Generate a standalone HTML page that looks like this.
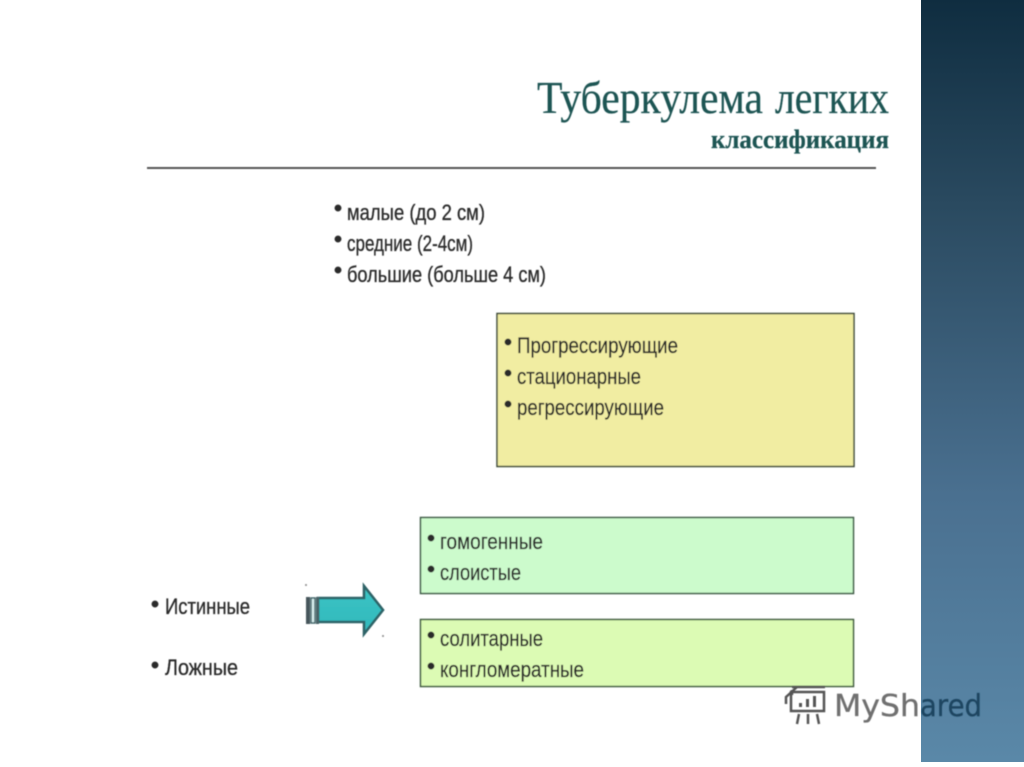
<!DOCTYPE html>
<html><head><meta charset="utf-8"><style>html,body{margin:0;padding:0;background:#fff}svg{display:block}</style></head><body>
<svg xmlns="http://www.w3.org/2000/svg" width="1024" height="767" viewBox="0 0 1024 767">
<defs>
<linearGradient id="s" x1="0" y1="0" x2="0" y2="1"><stop offset="0" stop-color="#0f2d40"/><stop offset=".27" stop-color="#2a4a60"/><stop offset=".65" stop-color="#4a7090"/><stop offset="1" stop-color="#5a88a8"/></linearGradient>
<linearGradient id="a" x1="0" y1="0" x2="0" y2="1"><stop offset="0" stop-color="#3cc4c4"/><stop offset="1" stop-color="#30b8bc"/></linearGradient>
<filter id="b" x="-5%" y="-5%" width="110%" height="110%"><feGaussianBlur stdDeviation=".45"/></filter>
</defs>
<rect width="1024" height="767" fill="#fff"/>
<rect x="921" y="0" width="103" height="762" fill="url(#s)"/>
<g filter="url(#b)">
<g font-family="'Liberation Serif',serif" fill="#1f5453" stroke="#1f5453" stroke-width=".25">
<text x="537" y="113" font-size="46" textLength="226" lengthAdjust="spacingAndGlyphs">Туберкулема</text>
<text x="775" y="113" font-size="46" textLength="114" lengthAdjust="spacingAndGlyphs">легких</text>
<text x="711" y="148" font-size="26" font-weight="bold" textLength="178" lengthAdjust="spacingAndGlyphs">классификация</text>
</g>
<rect x="147" y="167" width="729" height="2" fill="#555"/>
<rect x="497" y="313.500" width="357" height="153" fill="#f1eda2" stroke="#3c4a3a" stroke-width="1.500"/>
<rect x="420.500" y="517.500" width="433" height="76" fill="#ccfbcc" stroke="#3c5a44" stroke-width="1.500"/>
<rect x="420.500" y="619.500" width="433" height="67" fill="#dcfbb4" stroke="#3c5a3c" stroke-width="1.500"/>
<g font-family="'Liberation Sans',sans-serif" font-size="22" fill="#2a2a2a" stroke="#2a2a2a" stroke-width=".3">
<circle cx="338" cy="208" r="3.300"/><text x="347" y="220" textLength="138" lengthAdjust="spacingAndGlyphs">малые (до 2 см)</text>
<circle cx="338" cy="239" r="3.300"/><text x="347" y="251" textLength="126" lengthAdjust="spacingAndGlyphs">средние (2-4см)</text>
<circle cx="338" cy="270" r="3.300"/><text x="347" y="282" textLength="199" lengthAdjust="spacingAndGlyphs">большие (больше 4 см)</text>
<circle cx="508" cy="342" r="3.300"/><text x="517" y="353" textLength="161" lengthAdjust="spacingAndGlyphs">Прогрессирующие</text>
<circle cx="508" cy="373" r="3.300"/><text x="517" y="384" textLength="124" lengthAdjust="spacingAndGlyphs">стационарные</text>
<circle cx="508" cy="404" r="3.300"/><text x="517" y="415" textLength="147" lengthAdjust="spacingAndGlyphs">регрессирующие</text>
<circle cx="431" cy="538" r="3.300"/><text x="440" y="549" textLength="103" lengthAdjust="spacingAndGlyphs">гомогенные</text>
<circle cx="431" cy="569" r="3.300"/><text x="440" y="580" textLength="81" lengthAdjust="spacingAndGlyphs">слоистые</text>
<circle cx="431" cy="635" r="3.300"/><text x="440" y="646" textLength="103" lengthAdjust="spacingAndGlyphs">солитарные</text>
<circle cx="431" cy="666" r="3.300"/><text x="440" y="677" textLength="144" lengthAdjust="spacingAndGlyphs">конгломератные</text>
<circle cx="155" cy="604" r="3.300"/><text x="165" y="614" textLength="85" lengthAdjust="spacingAndGlyphs">Истинные</text>
<circle cx="155" cy="665" r="3.300"/><text x="165" y="675" textLength="73" lengthAdjust="spacingAndGlyphs">Ложные</text>
</g>
<path d="M318 598H364V586L383 610L364 634V622H318Z" fill="url(#a)" stroke="#2f6468" stroke-width="2.600"/>
<rect x="306" y="597" width="4" height="27" fill="#46565c"/>
<rect x="311" y="598" width="4" height="25" fill="#d8eeee" stroke="#3f6468" stroke-width="1.500"/>
<rect x="316" y="597" width="3" height="27" fill="#4a6468"/>
<circle cx="306" cy="585" r="1" fill="#888"/><circle cx="383" cy="636" r="1" fill="#888"/>
<g fill="none" stroke="#555" stroke-width="2.500">
<path d="M792 687H825M797 687L786 697V704M792 690V695"/>
<rect x="791" y="692" width="33" height="19"/>
<path d="M799 714L797 724M808 714V724M817 714L819 724"/>
</g>
<path d="M799 703h3v4h-3zM806 699h3v8h-3zM813 696h3v11h-3z" fill="#555"/>
<text x="834" y="716" font-family="'DejaVu Sans',sans-serif" font-size="30" fill="#707070" stroke="#707070" stroke-width=".3" textLength="86" lengthAdjust="spacingAndGlyphs">MySh</text>
<text x="920" y="716" font-family="'DejaVu Sans',sans-serif" font-size="30" fill="#1c4560" stroke="#1c4560" stroke-width=".3" textLength="62" lengthAdjust="spacingAndGlyphs">ared</text>
</g>
</svg>
</body></html>
